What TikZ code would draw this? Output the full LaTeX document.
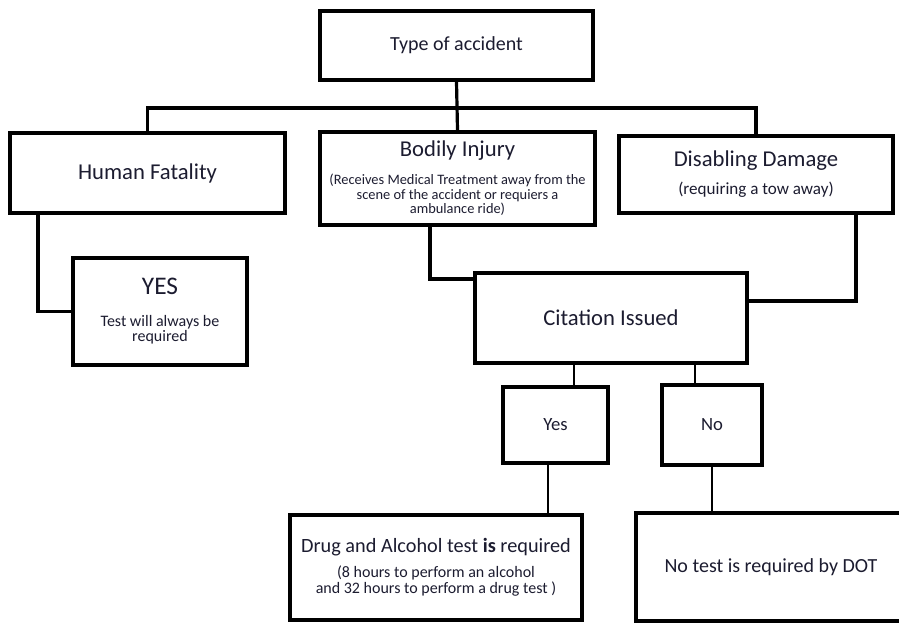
\documentclass[tikz,border=0pt]{standalone}
\usepackage{fontspec}
\setmainfont{Carlito}
\usepackage{tikz}
\usetikzlibrary{shadows}
\definecolor{ink}{RGB}{28,28,48}

\begin{document}
\begin{tikzpicture}[x=0.75pt,y=-0.75pt,
	box/.style={draw=black,line width=3pt,fill=white,inner sep=0pt,align=center,text=ink,
		drop shadow={shadow xshift=1.2pt,shadow yshift=-1.2pt,fill=black!40}},
	wh/.style 2 args={minimum width=#1*0.75pt,minimum height=#2*0.75pt},
	link/.style={line width=2.4pt},
	big/.style={font=\fontsize{17}{20}\selectfont},
	small/.style={font=\fontsize{11}{11.5}\selectfont}]
	\useasboundingbox (0,0) rectangle (899,623);
	% top level
	\node[box,wh={273}{69},font=\fontsize{15}{18}\selectfont] (type) at (456.5,45.5) {Type of accident};
	\node[box,wh={275}{80},big] (fatal) at (147.5,173) {Human Fatality};
	\node[box,wh={275}{93},font=\fontsize{10.8}{10.9}\selectfont] (injury) at (457.5,178.5)
		{{\fontsize{17}{20}\selectfont Bodily Injury}\\[10pt]
		(Receives Medical Treatment away from the\\
		scene of the accident or requiers a\\
		ambulance ride)};
	\node[box,wh={274}{77},font=\fontsize{12.8}{15}\selectfont] (damage) at (756,174.5)
		{{\fontsize{17}{20}\selectfont Disabling Damage}\\[6pt]
		(requiring a tow away)};
	% second level
	\node[box,wh={174}{107},font=\fontsize{12}{11.3}\selectfont] (yesfat) at (160,311.5)
		{{\fontsize{19}{22}\selectfont YES}\\[12.7pt]
		Test will always be\\
		required};
	\node[box,wh={272}{90},big] (cite) at (611,318) {Citation Issued};
	\node[box,wh={105}{76},font=\fontsize{14}{16}\selectfont] (yesbox) at (555.5,425) {Yes};
	\node[box,wh={100}{80},font=\fontsize{14}{16}\selectfont] (nobox) at (712,425) {No};
	% results
	\node[box,wh={292}{105},font=\fontsize{12}{12}\selectfont] (drug) at (436,567.5)
		{{\fontsize{15.2}{18}\selectfont Drug and Alcohol test \textbf{is} required}\\[6.75pt]
		(8 hours to perform an alcohol\\
		and 32 hours to perform a drug test )};
	\node[box,wh={270}{108},font=\fontsize{15}{18}\selectfont] (notest) at (771,567) {No test is required by DOT};
	% connectors
	\coordinate (bus) at (457,108);
	\draw[link] (fatal.north) |- (bus) -| (damage.north);
	\draw[link] (type.south) -- (injury.north);
	\draw[link] ([xshift=22.5pt]fatal.south west) |- (yesfat.west);
	\draw[link] ([xshift=-20.6pt]injury.south) |- ([yshift=-6pt]cite.north west);
	\draw[link] ([xshift=75pt]damage.south) |- ([yshift=-22.5pt]cite.north east);
	\draw[link,line width=2pt] ([xshift=13.9pt]yesbox.north) -- ([xshift=13.9pt]yesbox.north |- cite.south);
	\draw[link,line width=2pt] ([xshift=-12.75pt]nobox.north) -- ([xshift=-12.75pt]nobox.north |- cite.south);
	\draw[link,line width=2pt] ([xshift=-5.6pt]yesbox.south) -- ([xshift=-5.6pt]yesbox.south |- drug.north);
	\draw[link,line width=2pt] (nobox.south) -- (nobox.south |- notest.north);
\end{tikzpicture}
\end{document}
